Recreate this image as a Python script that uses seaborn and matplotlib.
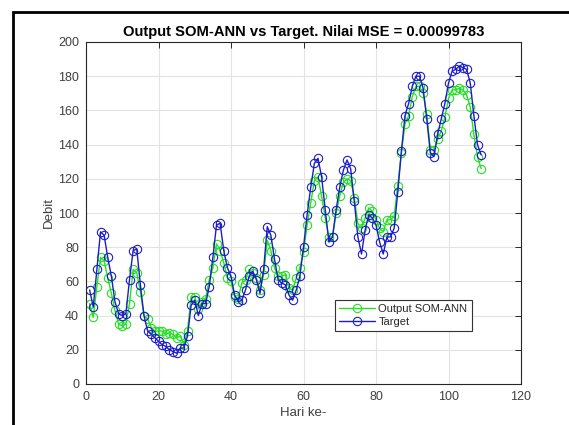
import numpy as np
import pandas as pd
import matplotlib
matplotlib.use("Agg")
import matplotlib.pyplot as plt
import seaborn as sns
from matplotlib.patches import Rectangle

# Daily discharge: network output vs. observed target
target = [55, 45, 67, 89, 87, 74, 63, 48, 41, 40,
          41, 61, 78, 79, 58, 40, 31, 29, 27, 25,
          23, 22, 20, 19, 18, 21, 21, 28, 46, 49,
          40, 47, 47, 57, 74, 93, 94, 78, 68, 63,
          52, 48, 49, 55, 63, 66, 61, 53, 67, 92,
          87, 73, 61, 59, 58, 52, 49, 55, 63, 80,
          99, 115, 129, 132, 121, 102, 83, 86, 102, 115,
          125, 131, 126, 107, 86, 76, 90, 99, 97, 93,
          83, 76, 86, 86, 91, 112, 136, 157, 164,
          174, 180, 180, 173, 155, 135, 133, 146, 155, 164,
          176, 183, 184, 186, 185, 184, 176, 157, 140, 134]

output = [47, 39, 57, 74, 72, 62, 53, 43, 35, 34,
          35, 47, 67, 65, 54, 40, 38, 33, 31, 31,
          31, 29, 30, 29, 27, 28, 23, 31, 51, 51,
          44, 48, 50, 61, 68, 82, 78, 71, 62, 60,
          51, 50, 59, 61, 67, 65, 62, 55, 64, 84,
          78, 68, 63, 63, 64, 56, 55, 62, 68, 77,
          93, 106, 119, 121, 110, 97, 86, 86, 100, 110,
          118, 120, 119, 109, 94, 91, 97, 103, 101, 96,
          91, 89, 96, 96, 98, 116, 135, 152, 157,
          168, 174, 174, 170, 158, 137, 137, 143, 148, 156,
          167, 172, 172, 173, 172, 169, 162, 146, 133, 126]

days = list(range(1, len(target) + 1))

title_text = "Output SOM-ANN vs Target. Nilai MSE = 0.00099783"
xticks = [0, 20, 40, 60, 80, 100, 120]
yticks = [0, 20, 40, 60, 80, 100, 120, 140, 160, 180, 200]

df = pd.DataFrame({
    "Hari": days + days,
    "Debit": output + target,
    "Seri": ["Output SOM-ANN"] * len(days) + ["Target"] * len(days),
})

sns.set_style("white")
plt.rcParams["font.family"] = ["Liberation Sans", "DejaVu Sans"]

W, H = 569, 425
fig = plt.figure(figsize=(W / 100, H / 100), dpi=100)
ax = fig.add_axes([86 / W, 1 - 384 / H, (521 - 86) / W, (384 - 42) / H])

palette = {"Output SOM-ANN": "#22e022", "Target": "#1c1cc8"}
for name in ["Output SOM-ANN", "Target"]:
    sub = df[df["Seri"] == name]
    col = palette[name]
    sns.lineplot(data=sub, x="Hari", y="Debit", ax=ax, color=col,
                 linewidth=1.0, marker="o", markersize=6,
                 markerfacecolor="none", markeredgecolor=col,
                 markeredgewidth=0.8, label=name)

ax.set_xlim(0, 120)
ax.set_ylim(0, 200)
ax.set_xticks(xticks)
ax.set_yticks(yticks)
ax.grid(True, color="#e3e3e3", linewidth=0.8)
ax.set_axisbelow(True)
for s in ax.spines.values():
    s.set_color("#262626")
    s.set_linewidth(0.8)
ax.tick_params(direction="in", length=4, width=0.7, colors="#262626",
               labelsize=9, top=True, right=True, pad=5,
               labelcolor="#404040")

ax.set_title(title_text, fontsize=10.6, fontweight="bold", pad=4, color="black")
ax.set_xlabel("Hari ke-", fontsize=9.5, color="#404040", labelpad=3)
ax.set_ylabel("Debit", fontsize=9.5, color="#404040", labelpad=2)

leg = ax.legend(loc="lower left", bbox_to_anchor=((335 - 86) / 435, (384 - 331) / 342),
                fontsize=8, frameon=True, fancybox=False, framealpha=1,
                edgecolor="#333333", borderpad=0.4, labelspacing=0.2,
                handlelength=3.2, handletextpad=0.3, borderaxespad=0)
leg.get_frame().set_linewidth(0.8)

# outer frame around the figure area
fig.patches.append(Rectangle((13 / W, -0.1), 1.2, 1.1 - 12 / H,
                             transform=fig.transFigure, fill=False,
                             edgecolor="black", linewidth=2))

fig.savefig("out.png", dpi=100)
